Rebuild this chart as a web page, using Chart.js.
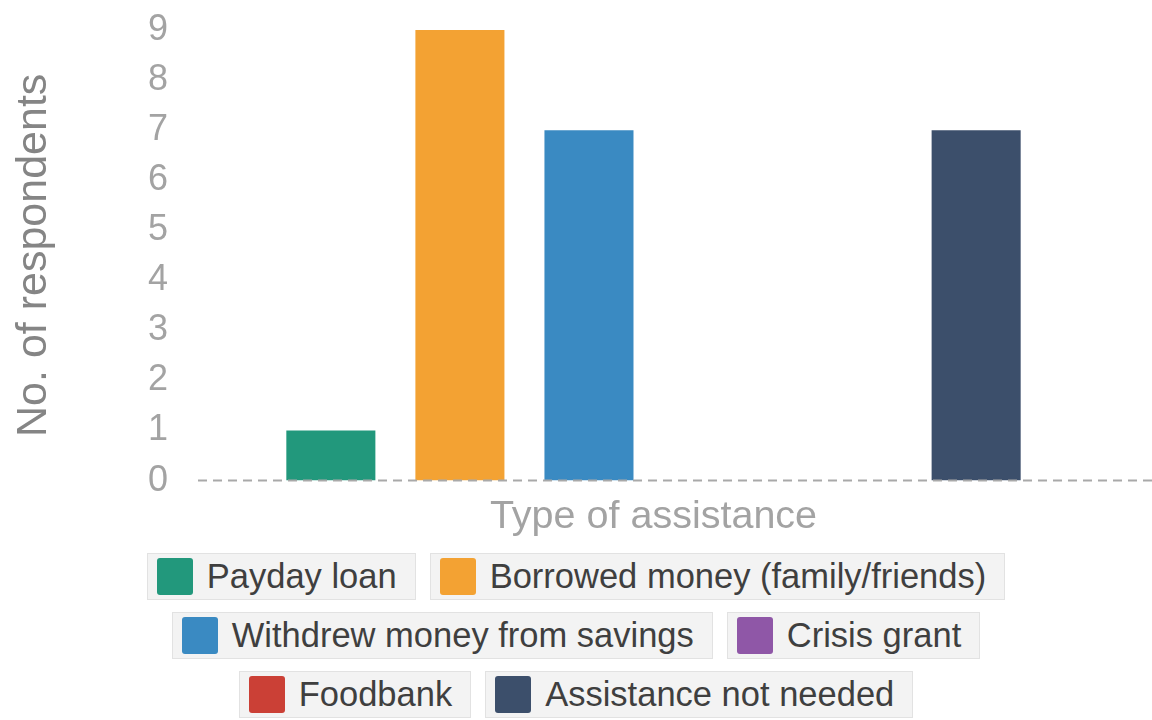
<!DOCTYPE html>
<html>
<head>
<meta charset="utf-8">
<script src="https://cdn.jsdelivr.net/npm/chart.js@4"></script>
<style>
  html, body { margin: 0; padding: 0; background: #fff; }
  body { width: 1152px; height: 720px; overflow: hidden; font-family: "Liberation Sans", Arial, sans-serif; }
  #wrap { position: relative; width: 1152px; height: 545px; }
  #legend {
    width: 900px; margin: 8px auto 0 auto;
    display: flex; flex-wrap: wrap; justify-content: center; gap: 12px 14px;
  }
  .item {
    display: flex; align-items: center; height: 47px;
    padding: 0 18px 0 9px; box-sizing: border-box;
    background: #f3f3f3; border: 1px solid #e2e2e2;
    font-size: 34.5px; color: #3f3f3f; white-space: nowrap;
  }
  .sw { width: 36px; height: 37px; border-radius: 3px; margin-right: 14px; }
</style>
</head>
<body>
<div id="wrap"><canvas id="c"></canvas></div>
<div id="legend"></div>
<script>
// Responses by type of assistance used
const categories = ['Type of assistance'];
const seriesNames = [
  'Payday loan',
  'Borrowed money (family/friends)',
  'Withdrew money from savings',
  'Crisis grant',
  'Foodbank',
  'Assistance not needed'
];
const seriesValues = [1, 9, 7, 0, 0, 7];
const seriesColors = ['#22987c', '#f3a233', '#3a8ac2', '#8f57a7', '#cb4036', '#3c4f6b'];
const yTicks = [0, 1, 2, 3, 4, 5, 6, 7, 8, 9];

const datasets = seriesNames.map((name, i) => ({
  label: name,
  data: [seriesValues[i]],
  backgroundColor: seriesColors[i],
  borderWidth: 0,
  categoryPercentage: 0.85,
  barPercentage: 0.69
}));

// dashed baseline at zero, running to the right edge of the canvas
const zeroLine = {
  id: 'zeroLine',
  afterDatasetsDraw(chart) {
    const y = chart.scales.y.getPixelForValue(0);
    const ctx = chart.ctx;
    ctx.save();
    ctx.strokeStyle = '#a9a9a9';
    ctx.lineWidth = 2;
    ctx.setLineDash([9, 6]);
    ctx.beginPath();
    ctx.moveTo(chart.chartArea.left, y);
    ctx.lineTo(chart.width, y);
    ctx.stroke();
    ctx.restore();
  }
};

const chart = new Chart(document.getElementById('c'), {
  type: 'bar',
  data: { labels: categories, datasets },
  options: {
    responsive: true,
    maintainAspectRatio: false,
    animation: false,
    layout: { padding: { left: 8, right: 43, top: 30, bottom: 4 } },
    plugins: {
      legend: { display: false },
      tooltip: { enabled: false }
    },
    scales: {
      x: {
        grid: { display: false },
        border: { display: false },
        ticks: { display: false },
        title: {
          display: true,
          text: 'Type of assistance',
          color: '#a3a3a3',
          font: { family: '"Liberation Sans", Arial, sans-serif', size: 39.5 },
          padding: { top: 5, bottom: 0 }
        }
      },
      y: {
        min: 0,
        max: 9,
        afterBuildTicks(scale) { scale.ticks = yTicks.map(v => ({ value: v })); },
        afterFit(scale) {
          scale.width = 190;
          scale.paddingTop = 0;
          scale.paddingBottom = 0;
        },
        grid: { display: false },
        border: { display: false },
        ticks: {
          color: '#a3a3a3',
          padding: 22,
          font: { family: '"Liberation Sans", Arial, sans-serif', size: 36 }
        },
        title: {
          display: true,
          text: 'No. of respondents',
          color: '#858585',
          font: { family: '"Liberation Sans", Arial, sans-serif', size: 43 },
          padding: { top: 0, bottom: 0 }
        }
      }
    }
  },
  plugins: [zeroLine]
});

// legend boxes built from the datasets
const legend = document.getElementById('legend');
datasets.forEach(ds => {
  const item = document.createElement('div');
  item.className = 'item';
  const sw = document.createElement('span');
  sw.className = 'sw';
  sw.style.background = ds.backgroundColor;
  const txt = document.createElement('span');
  txt.textContent = ds.label;
  item.appendChild(sw);
  item.appendChild(txt);
  legend.appendChild(item);
});
</script>
</body>
</html>
